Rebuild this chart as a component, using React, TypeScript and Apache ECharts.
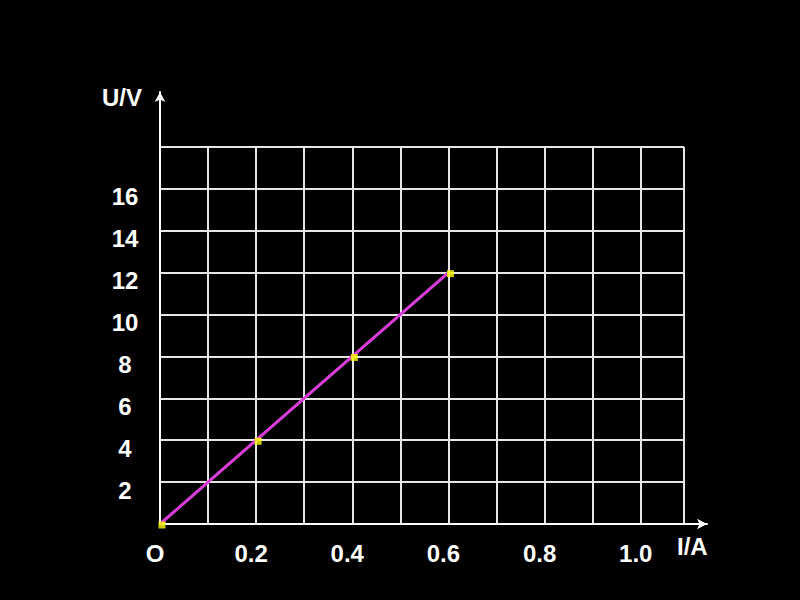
import React, { useEffect, useRef } from "react";
import * as echarts from "echarts";

// Measured data points (I in A, U in V)
const currentA = [0, 0.2, 0.4, 0.6];
const voltageV = [0, 4, 8, 12];
// Fitted straight line through the origin
const fitCurrentA = [0, 0.6];
const fitVoltageV = [0, 12];

// Tick labels
const xTickValues = [0, 0.2, 0.4, 0.6, 0.8, 1.0];
const xTickLabels = ["O", "0.2", "0.4", "0.6", "0.8", "1.0"];
const yTickValues = [2, 4, 6, 8, 10, 12, 14, 16];
const yTickLabels = ["2", "4", "6", "8", "10", "12", "14", "16"];

const xAxisName = "I/A";
const yAxisName = "U/V";

const FONT = "'Liberation Sans', Arial, sans-serif";

function lookup(values: number[], labels: string[], v: number): string {
  for (let i = 0; i < values.length; i++) {
    if (Math.abs(values[i] - v) < 1e-6) return labels[i];
  }
  return "";
}

export default function App() {
  const ref = useRef<HTMLDivElement>(null);

  useEffect(() => {
    document.body.style.margin = "0";
    document.body.style.background = "#000";
    if (!ref.current) return;
    const chart = echarts.init(ref.current, undefined, { renderer: "svg" });
    const gridLine = { show: true, lineStyle: { color: "#e6e6e6", width: 2 } };
    const labelStyle = {
      color: "#ffffff",
      fontFamily: FONT,
      fontWeight: "bold" as const,
      fontSize: 24,
    };
    const points = currentA.map((x, i) => [x, voltageV[i]]);
    chart.setOption({
      animation: false,
      backgroundColor: "#000000",
      grid: [
        { left: 160, top: 147, width: 524, height: 377, show: false },
        { left: 160, top: 92, right: 93, bottom: 76, show: false },
      ],
      xAxis: [
        {
          type: "value",
          gridIndex: 0,
          min: 0,
          max: 1.09,
          interval: 0.1,
          axisLine: { show: false },
          axisTick: { show: false },
          splitLine: gridLine,
          axisLabel: {
            ...labelStyle,
            margin: 17,
            padding: [0, 10, 0, 0],
            formatter: (v: number) => lookup(xTickValues, xTickLabels, v),
          },
        },
        {
          type: "value",
          gridIndex: 1,
          min: 0,
          max: 1,
          axisLine: {
            show: true,
            lineStyle: { color: "#ffffff", width: 2 },
            symbol: ["none", "arrow"],
            symbolSize: [8, 10],
          },
          axisTick: { show: false },
          axisLabel: { show: false },
          splitLine: { show: false },
          name: xAxisName,
          nameLocation: "end",
          nameGap: -30,
          nameTextStyle: {
            ...labelStyle,
            align: "left",
            verticalAlign: "top",
            lineHeight: 44,
          },
        },
      ],
      yAxis: [
        {
          type: "value",
          gridIndex: 0,
          min: 0,
          max: 18,
          interval: 2,
          axisLine: { show: false },
          axisTick: { show: false },
          splitLine: gridLine,
          axisLabel: {
            ...labelStyle,
            align: "center",
            verticalAlign: "top",
            lineHeight: 16,
            margin: 35,
            formatter: (v: number) => lookup(yTickValues, yTickLabels, v),
          },
        },
        {
          type: "value",
          gridIndex: 1,
          min: 0,
          max: 1,
          axisLine: {
            show: true,
            lineStyle: { color: "#ffffff", width: 2 },
            symbol: ["none", "arrow"],
            symbolSize: [8, 10],
          },
          axisTick: { show: false },
          axisLabel: { show: false },
          splitLine: { show: false },
          name: yAxisName,
          nameLocation: "end",
          nameGap: -5,
          nameTextStyle: {
            ...labelStyle,
            align: "center",
            verticalAlign: "middle",
            padding: [0, 76, 0, 0],
          },
        },
      ],
      series: [
        {
          type: "line",
          xAxisIndex: 0,
          yAxisIndex: 0,
          data: points,
          symbol: "none",
          lineStyle: { color: "#ffffff", width: 2 },
          z: 3,
        },
        {
          type: "line",
          xAxisIndex: 0,
          yAxisIndex: 0,
          data: fitCurrentA.map((x, i) => [x, fitVoltageV[i]]),
          symbol: "none",
          lineStyle: { color: "#d93bd9", width: 3 },
          z: 4,
        },
        {
          type: "scatter",
          xAxisIndex: 0,
          yAxisIndex: 0,
          data: points,
          symbol: "rect",
          symbolSize: 7,
          symbolOffset: [2, 1],
          itemStyle: { color: "#ffff00" },
          z: 5,
        },
      ],
    });
    return () => chart.dispose();
  }, []);

  return (
    <div
      ref={ref}
      style={{ position: "absolute", left: 0, top: 0, width: 800, height: 600, background: "#000" }}
    />
  );
}
